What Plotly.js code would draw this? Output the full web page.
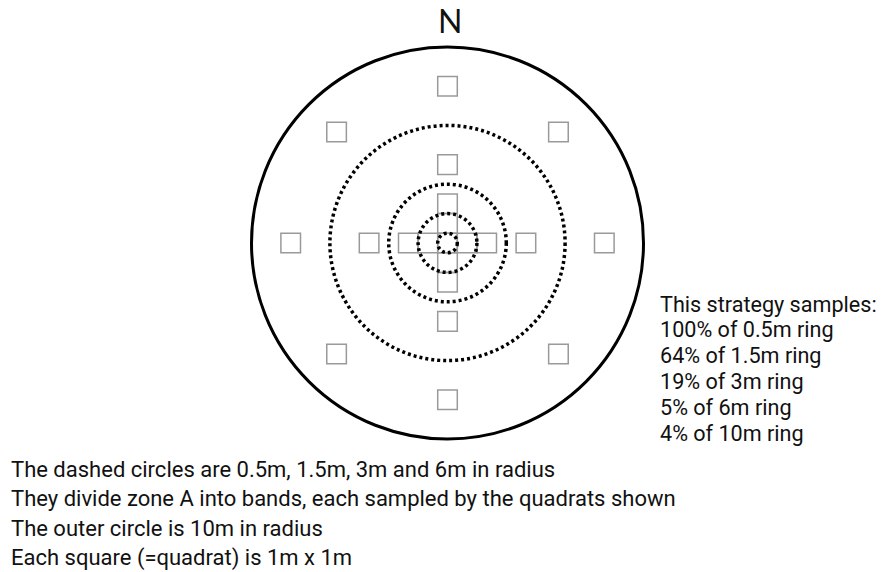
<!DOCTYPE html>
<html><head><meta charset="utf-8">
<script src="https://cdn.plot.ly/plotly-3.0.1.min.js"></script>
<style>html,body{margin:0;padding:0;background:#fff}#chart{width:884px;height:572px}</style>
</head><body><div id="chart"></div>
<script>
// Radii (m)
const outerRadius = 10;
const dashedRadii = [0.5, 1.5, 3, 6];
// Quadrat centres (m), each quadrat 1m x 1m
const quadratX = [0, 1, 2, -1, -2, 0, 0, 0, 0, 4, -4, 0, 0, 8, -8, 0, 0, 5.66, -5.66, 5.66, -5.66];
const quadratY = [0, 0, 0, 0, 0, 1, 2, -1, -2, 0, 0, 4, -4, 0, 0, 8, -8, 5.66, 5.66, -5.66, -5.66];
const quadratSize = 1;
// Texts
const northLabel = 'N';
const strategyLines = ['This strategy samples:', '100% of 0.5m ring', '64% of 1.5m ring', '19% of 3m ring', '5% of 6m ring', '4% of 10m ring'];
const noteLines = ['The dashed circles are 0.5m, 1.5m, 3m and 6m in radius',
  'They divide zone A into bands, each sampled by the quadrats shown',
  'The outer circle is 10m in radius',
  'Each square (=quadrat) is 1m x 1m'];

const W = 884, H = 572, pxPerM = 19.6, cx = 447.5, cy = 243;
const shapes = [];
quadratX.forEach((x, i) => {
  const y = quadratY[i], h = quadratSize / 2;
  shapes.push({type: 'rect', xref: 'x', yref: 'y', x0: x - h, x1: x + h, y0: y - h, y1: y + h,
    line: {color: '#9a9a9a', width: 1.5}, fillcolor: 'rgba(0,0,0,0)'});
});
dashedRadii.forEach(r => {
  shapes.push({type: 'circle', xref: 'x', yref: 'y', x0: -r, x1: r, y0: -r, y1: r,
    line: {color: '#000', width: 3.5, dash: '3px,3px'}});
});
shapes.push({type: 'circle', xref: 'x', yref: 'y', x0: -outerRadius, x1: outerRadius, y0: -outerRadius, y1: outerRadius,
  line: {color: '#000', width: 3}});

const noteFont = {family: 'Roboto, sans-serif', size: 22, color: '#111'};
const strategyFont = {family: 'Roboto, sans-serif', size: 21.6, color: '#111'};
const annotations = [];
annotations.push({text: northLabel, xref: 'paper', yref: 'paper', x: 450 / W, y: 1 - 21 / H,
  xanchor: 'center', yanchor: 'middle', showarrow: false, font: {family: 'Lato, sans-serif', size: 32, color: '#111'}});
strategyLines.forEach((t, i) => {
  annotations.push({text: t, xref: 'paper', yref: 'paper', x: 658 / W, y: 1 - (304 + i * 25.8) / H,
    xanchor: 'left', yanchor: 'middle', showarrow: false, font: strategyFont});
});
noteLines.forEach((t, i) => {
  annotations.push({text: t, xref: 'paper', yref: 'paper', x: 9 / W, y: 1 - (469 + i * 29.7) / H,
    xanchor: 'left', yanchor: 'middle', showarrow: false, font: noteFont});
});

const layout = {
  width: W, height: H, margin: {l: 0, r: 0, t: 0, b: 0},
  paper_bgcolor: '#fff', plot_bgcolor: '#fff', showlegend: false,
  xaxis: {range: [-cx / pxPerM, (W - cx) / pxPerM], visible: false, fixedrange: true},
  yaxis: {range: [-(H - cy) / pxPerM, cy / pxPerM], visible: false, fixedrange: true},
  shapes: shapes, annotations: annotations
};
Plotly.newPlot('chart', [{type: 'scatter', x: [], y: [], hoverinfo: 'skip'}], layout, {staticPlot: true});
</script></body></html>
